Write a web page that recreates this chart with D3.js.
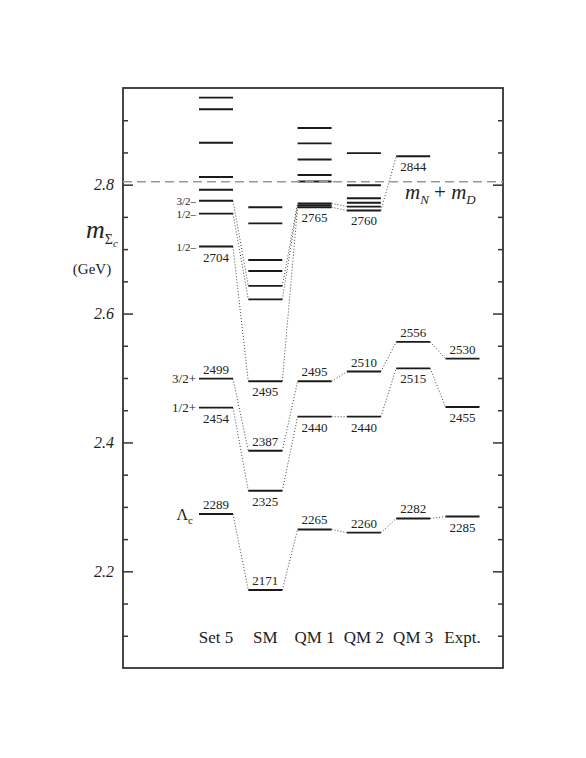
<!DOCTYPE html>
<html>
  <head>
    <meta charset="utf-8">
    <script src="https://cdn.jsdelivr.net/npm/d3@7/dist/d3.min.js"></script>
  </head>
  <body>
    <style>
      body{
        margin: 0;
        padding: 0;
        background-color: white;
      }
      svg text{
        font-family: "Liberation Serif", "Times New Roman", serif;
        fill: #222;
      }
    </style>
    <div id="chart"></div>
    <script>
      // model columns and their levels (MeV)
      var columns = ["Set 5", "SM", "QM 1", "QM 2", "QM 3", "Expt."];
      var set5 = [2289, 2454, 2499, 2704, 2755, 2775, 2792, 2812, 2865, 2917, 2935];
      var sm   = [2171, 2325, 2387, 2495, 2622, 2643, 2666, 2683, 2740, 2765];
      var qm1  = [2265, 2440, 2495, 2765, 2768, 2771, 2805, 2815, 2839, 2864, 2888];
      var qm2  = [2260, 2440, 2510, 2760, 2766, 2772, 2779, 2799, 2849];
      var qm3  = [2282, 2515, 2556, 2844];
      var expt = [2285, 2455, 2530];
      var levels = [set5, sm, qm1, qm2, qm3, expt];

      // numbers printed next to levels
      var labelsAbove = [[2499, 2289], [2387, 2171], [2495, 2265], [2510, 2260], [2556, 2282], [2530]];
      var labelsBelow = [[2704, 2454], [2495, 2325], [2765, 2440], [2760, 2440], [2844, 2515], [2455, 2285]];

      // dotted links between neighbouring columns: [from, to]
      var links = [
        [[2499, 2387], [2454, 2325], [2289, 2171], [2775, 2643], [2755, 2622], [2704, 2495]],
        [[2387, 2495], [2325, 2440], [2171, 2265], [2643, 2771], [2622, 2768], [2495, 2765]],
        [[2495, 2510], [2440, 2440], [2265, 2260], [2771, 2766], [2765, 2760]],
        [[2510, 2556], [2440, 2515], [2260, 2282], [2760, 2844]],
        [[2556, 2530], [2515, 2455], [2282, 2285]]
      ];

      // spin-parity tags on Set 5
      var spinValues = [2775, 2755, 2704, 2499, 2454];
      var spinTags = ["3/2–", "1/2–", "1/2–", "3/2+", "1/2+"];

      var thresholdMass = 2804.5; // m_N + m_D
      var majorTicks = [2.2, 2.4, 2.6, 2.8];
      var minorTicks = [2.1, 2.15, 2.25, 2.3, 2.35, 2.45, 2.5, 2.55, 2.65, 2.7, 2.75, 2.85, 2.9];

      var W = 586, H = 758;
      var frameL = 123, frameR = 503, frameT = 88, frameB = 668;
      var half = 17;

      var svg = d3.select("#chart").append("svg")
        .attr("width", W)
        .attr("height", H);

      var y = d3.scaleLinear().domain([2.05, 2.95]).range([frameB, frameT]);
      var x = d3.scalePoint().domain(columns).range([216, 462.5]);
      var ym = function(v){ return y(v / 1000); };

      // axes, ticks pointing inward on both sides
      function drawAxis(axis, tx, vals, size, labels){
        var g = svg.append("g")
          .attr("transform", "translate(" + tx + ",0)")
          .call(axis.tickValues(vals).tickSize(-size).tickPadding(9)
            .tickFormat(labels ? d3.format(".1f") : ""));
        g.select(".domain").remove();
        g.selectAll(".tick line").attr("stroke", "#333").attr("stroke-width", 1.5);
        g.selectAll(".tick text")
          .style("font-size", "16px")
          .style("font-style", "italic")
          .style("font-family", "'Liberation Serif', serif")
          .attr("fill", "#222");
      }
      drawAxis(d3.axisLeft(y), frameL, majorTicks, 10, true);
      drawAxis(d3.axisLeft(y), frameL, minorTicks, 5, false);
      drawAxis(d3.axisRight(y), frameR, majorTicks, 10, false);
      drawAxis(d3.axisRight(y), frameR, minorTicks, 5, false);

      svg.append("rect")
        .attr("x", frameL).attr("y", frameT)
        .attr("width", frameR - frameL).attr("height", frameB - frameT)
        .attr("fill", "none")
        .attr("stroke", "#333")
        .attr("stroke-width", 1.8);

      // dotted connectors
      links.forEach(function(pairs, i){
        svg.append("g").selectAll("line")
          .data(pairs)
          .enter().append("line")
          .attr("x1", x(columns[i]) + half)
          .attr("y1", function(d){ return ym(d[0]); })
          .attr("x2", x(columns[i + 1]) - half)
          .attr("y2", function(d){ return ym(d[1]); })
          .attr("stroke", "#444")
          .attr("stroke-width", 1)
          .attr("stroke-dasharray", "1,2");
      });

      // level lines
      levels.forEach(function(vals, i){
        svg.append("g").selectAll("line")
          .data(vals)
          .enter().append("line")
          .attr("x1", x(columns[i]) - half)
          .attr("x2", x(columns[i]) + half)
          .attr("y1", ym)
          .attr("y2", ym)
          .attr("stroke", "#1a1a1a")
          .attr("stroke-width", 1.9);
      });

      // threshold
      svg.append("line")
        .attr("x1", frameL).attr("x2", frameR)
        .attr("y1", ym(thresholdMass)).attr("y2", ym(thresholdMass))
        .attr("stroke", "#999")
        .attr("stroke-width", 1.3)
        .attr("stroke-dasharray", "9,5");

      // value labels
      columns.forEach(function(c, i){
        svg.append("g").selectAll("text")
          .data(labelsAbove[i])
          .enter().append("text")
          .attr("x", x(c))
          .attr("y", function(d){ return ym(d) - 5; })
          .attr("text-anchor", "middle")
          .style("font-size", "13px")
          .text(function(d){ return d; });
        svg.append("g").selectAll("text")
          .data(labelsBelow[i])
          .enter().append("text")
          .attr("x", x(c))
          .attr("y", function(d){ return ym(d) + 15; })
          .attr("text-anchor", "middle")
          .style("font-size", "13px")
          .text(function(d){ return d; });
      });

      // spin labels
      svg.append("g").selectAll("text")
        .data(spinValues)
        .enter().append("text")
        .attr("x", x(columns[0]) - half - 3)
        .attr("y", function(d){ return ym(d) + 4; })
        .attr("text-anchor", "end")
        .style("font-size", function(d, i){ return spinTags[i].indexOf("+") >= 0 ? "13px" : "11px"; })
        .text(function(d, i){ return spinTags[i]; });

      var lam = svg.append("text")
        .attr("x", x(columns[0]) - half - 6)
        .attr("y", ym(set5[0]) + 6)
        .attr("text-anchor", "end")
        .style("font-size", "16px");
      lam.append("tspan").text("Λ");
      lam.append("tspan").attr("dy", 4).style("font-size", "11px").text("c");

      // column names
      svg.append("g").selectAll("text")
        .data(columns)
        .enter().append("text")
        .attr("x", function(d){ return x(d); })
        .attr("y", 643)
        .attr("text-anchor", "middle")
        .style("font-size", "17px")
        .text(function(d){ return d; });

      // y title
      var yt = svg.append("text").attr("x", 86).attr("y", 238);
      yt.append("tspan").style("font-style", "italic").style("font-size", "26px").text("m");
      yt.append("tspan").attr("dy", 6).style("font-size", "14px").text("Σ");
      yt.append("tspan").attr("dy", 3).style("font-style", "italic").style("font-size", "11px").text("c");
      svg.append("text")
        .attr("x", 92).attr("y", 274)
        .attr("text-anchor", "middle")
        .style("font-size", "15px")
        .text("(GeV)");

      // threshold label
      var th = svg.append("text").attr("x", 405).attr("y", 199).style("font-size", "21px");
      th.append("tspan").style("font-style", "italic").text("m");
      th.append("tspan").attr("dy", 5).style("font-style", "italic").style("font-size", "13px").text("N");
      th.append("tspan").attr("dy", -5).text(" + ");
      th.append("tspan").style("font-style", "italic").text("m");
      th.append("tspan").attr("dy", 5).style("font-style", "italic").style("font-size", "13px").text("D");
    </script>
  </body>
</html>
